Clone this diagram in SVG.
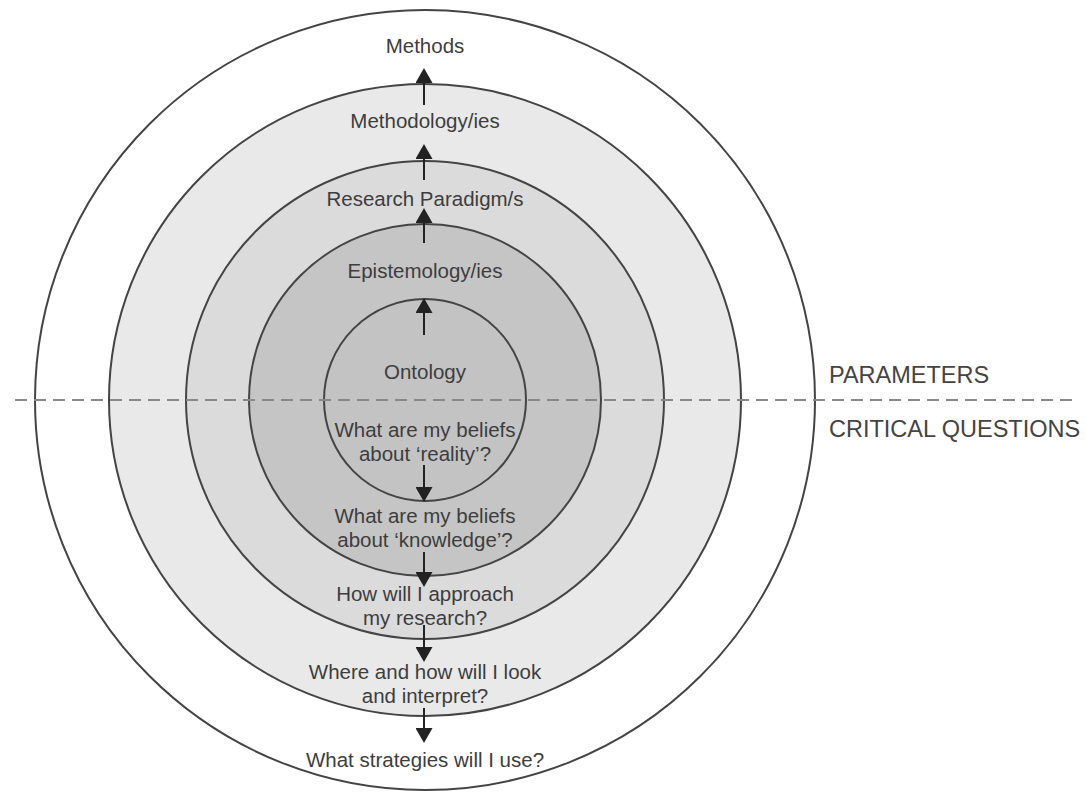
<svg xmlns="http://www.w3.org/2000/svg" width="1086" height="792" viewBox="0 0 1086 792">
<style>
.ring{stroke:#444;stroke-width:2}
.t{font-family:"Liberation Sans",Arial,sans-serif;font-size:20.5px;fill:#3d3d3d;text-anchor:middle}
.side{font-family:"Liberation Sans",Arial,sans-serif;font-size:23.5px;fill:#444}
.arr{stroke:#222;stroke-width:2;fill:none;marker-end:url(#head)}
.dash{stroke:#888;stroke-width:2;stroke-dasharray:12 7;fill:none}
</style>
<defs>
<marker id="head" markerUnits="userSpaceOnUse" markerWidth="15" markerHeight="17" viewBox="0 0 15 17" refX="4" refY="8.5" orient="auto">
<path d="M0,0 L15,8.5 L0,17 z" fill="#222"/>
</marker>
</defs>
<rect width="1086" height="792" fill="#fff"/>
<g id="methods">
<circle class="ring" cx="425" cy="400" r="390" fill="#ffffff"/>
<text class="t" x="425" y="53">Methods</text>
<text class="t" x="425" y="767">What strategies will I use?</text>
</g>
<g id="methodology">
<circle class="ring" cx="425" cy="400" r="316" fill="#e9e9e9"/>
<text class="t" x="425" y="128">Methodology/ies</text>
<text class="t" x="425" y="679">Where and how will I look</text>
<text class="t" x="425" y="703">and interpret?</text>
</g>
<g id="paradigm">
<circle class="ring" cx="425" cy="400" r="239" fill="#dbdbdb"/>
<text class="t" x="425" y="206">Research Paradigm/s</text>
<text class="t" x="425" y="601">How will I approach</text>
<text class="t" x="425" y="625">my research?</text>
</g>
<g id="epistemology">
<circle class="ring" cx="425" cy="400" r="176" fill="#c5c5c5"/>
<text class="t" x="425" y="278">Epistemology/ies</text>
<text class="t" x="425" y="523">What are my beliefs</text>
<text class="t" x="425" y="547">about ‘knowledge’?</text>
</g>
<g id="ontology">
<circle class="ring" cx="425" cy="400" r="101" fill="#c3c3c3"/>
<text class="t" x="425" y="379">Ontology</text>
<text class="t" x="425" y="437">What are my beliefs</text>
<text class="t" x="425" y="461">about ‘reality’?</text>
</g>
<g id="divider">
<line class="dash" x1="15" y1="400" x2="1072" y2="400"/>
<text class="side" x="829" y="383">PARAMETERS</text>
<text class="side" x="829" y="437">CRITICAL QUESTIONS</text>
</g>
<g id="connectors">
<line class="arr" x1="424" y1="105" x2="424" y2="79"/>
<line class="arr" x1="424" y1="180" x2="424" y2="155"/>
<line class="arr" x1="424" y1="243" x2="424" y2="219"/>
<line class="arr" x1="424" y1="335" x2="424" y2="309"/>
<line class="arr" x1="424" y1="465" x2="424" y2="491"/>
<line class="arr" x1="424" y1="552" x2="424" y2="576"/>
<line class="arr" x1="424" y1="625" x2="424" y2="651"/>
<line class="arr" x1="424" y1="708" x2="424" y2="732"/>
</g>
</svg>
